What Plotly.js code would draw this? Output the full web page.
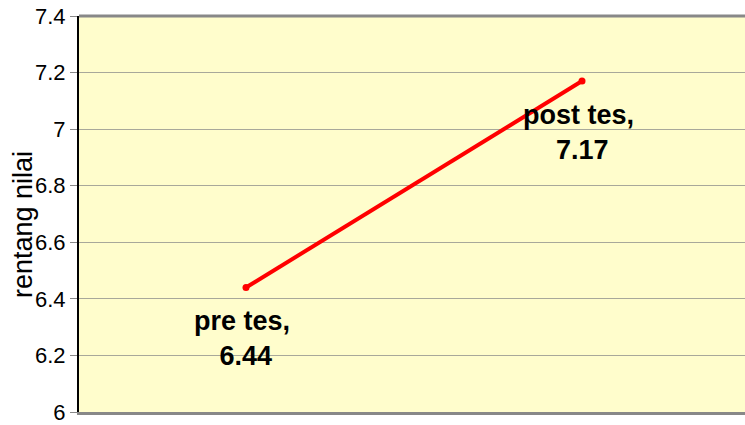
<!DOCTYPE html>
<html>
<head>
<meta charset="utf-8">
<script src="https://cdn.plot.ly/plotly-3.0.1.min.js"></script>
<style>html,body{margin:0;padding:0;background:#fff;}#chart{width:745px;height:425px;}</style>
</head>
<body>
<div id="chart"></div>
<script>
var categories = ["pre tes", "post tes"];
var values = [6.44, 7.17];
var tickValues = [6, 6.2, 6.4, 6.6, 6.8, 7, 7.2, 7.4];
var tickLabels = ["6", "6.2", "6.4", "6.6", "6.8", "7", "7.2", "7.4"];
var yTitle = "rentang nilai";

var trace = {
  x: categories,
  y: values,
  type: "scatter",
  mode: "lines+markers",
  line: {color: "#FF0000", width: 4},
  marker: {color: "#FF0000", size: 7},
  hoverinfo: "none"
};

var annotations = categories.map(function (c, i) {
  return {
    x: c, y: values[i], xref: "x", yref: "y",
    text: "<b>" + c + ", <br>" + values[i].toFixed(2) + "</b>",
    showarrow: false, yshift: -51, xanchor: "center", yanchor: "middle",
    font: {family: "Liberation Sans, Arial, sans-serif", size: 27, color: "#000"}
  };
});
annotations.push({
  xref: "paper", yref: "paper", x: 0, y: 0.5, xshift: -56, yshift: -11,
  text: yTitle, textangle: -90, showarrow: false,
  xanchor: "center", yanchor: "middle",
  font: {family: "Liberation Sans, Arial, sans-serif", size: 27, color: "#000"}
});

var layout = {
  width: 745, height: 425,
  margin: {l: 79, r: 0, t: 16, b: 13, pad: 0},
  paper_bgcolor: "#FFFFFF",
  plot_bgcolor: "#FFFDCC",
  showlegend: false,
  font: {family: "Liberation Sans, Arial, sans-serif", size: 22, color: "#000"},
  xaxis: {
    type: "category",
    range: [-0.497, 1.485],
    showticklabels: false,
    showgrid: false,
    zeroline: false,
    showline: true, linecolor: "#888888", linewidth: 3,
    ticks: ""
  },
  yaxis: {
    range: [6, 7.4],
    tickvals: tickValues,
    ticktext: tickLabels,
    ticksuffix: "\u2009\u00a0",
    showgrid: true, gridcolor: "#A8A89A", gridwidth: 1,
    zeroline: false,
    showline: true, linecolor: "#000000", linewidth: 2,
    ticks: "outside", ticklen: 7, tickcolor: "#888888",
    ticklabeloverflow: "allow",
    tickfont: {size: 22, color: "#000"}
  },
  shapes: [{
    type: "line", xref: "paper", yref: "paper", x0: 0, x1: 1, y0: 1, y1: 1,
    line: {color: "#888888", width: 3}
  }],
  annotations: annotations
};

Plotly.newPlot("chart", [trace], layout, {displayModeBar: false, staticPlot: true});
</script>
</body>
</html>
